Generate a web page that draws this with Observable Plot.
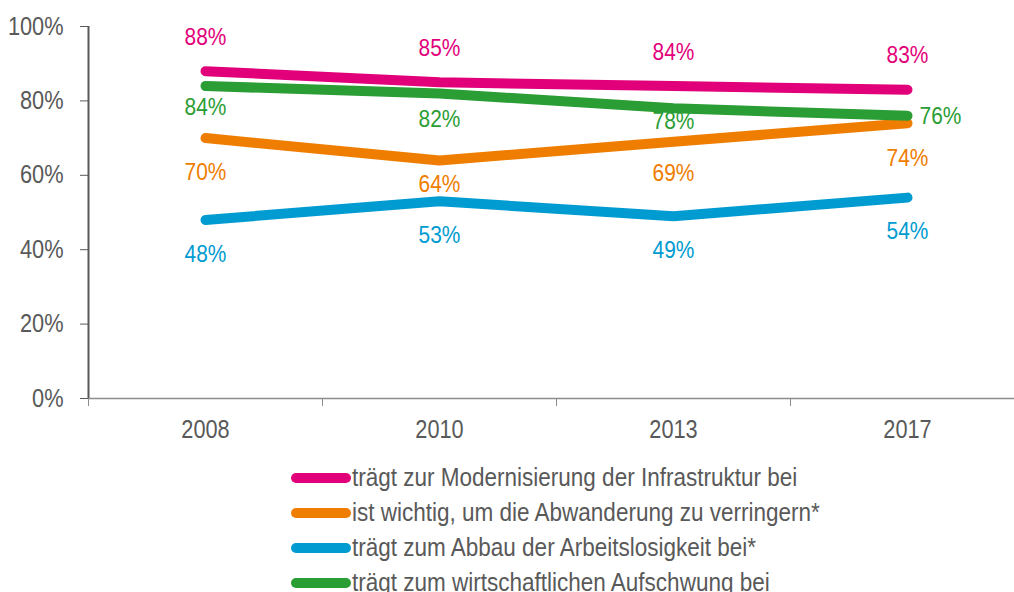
<!DOCTYPE html>
<html>
<head>
<meta charset="utf-8">
<script src="https://cdn.jsdelivr.net/npm/d3@7"></script>
<script src="https://cdn.jsdelivr.net/npm/@observablehq/plot@0.6"></script>
<style>
  html, body { margin: 0; padding: 0; background: #fff; overflow: hidden; }
  body { width: 1014px; height: 592px; font-family: "Liberation Sans", Arial, sans-serif; }
  #legend { margin-left: 290px; color: #595959; font-size: 25px; }
  .row { height: 35px; line-height: 35px; display: flex; align-items: center; white-space: nowrap; }
  .row svg { flex: none; }
  .row span { display: inline-block; transform: scaleX(0.9); transform-origin: left center; }
</style>
</head>
<body>
<div id="chart"></div>
<div id="legend"></div>
<script>
const years = ["2008", "2010", "2013", "2017"];
const seriesNames = [
  "trägt zur Modernisierung der Infrastruktur bei",
  "ist wichtig, um die Abwanderung zu verringern*",
  "trägt zum Abbau der Arbeitslosigkeit bei*",
  "trägt zum wirtschaftlichen Aufschwung bei"
];
const infrastruktur = [0.88, 0.85, 0.84, 0.83];
const abwanderung = [0.70, 0.64, 0.69, 0.74];
const arbeitslosigkeit = [0.48, 0.53, 0.49, 0.54];
const aufschwung = [0.84, 0.82, 0.78, 0.76];
const yTicks = [0, 0.2, 0.4, 0.6, 0.8, 1.0];
const colors = ["#e2007a", "#ef7d00", "#009bd0", "#2a9d34"];

const seriesValues = [infrastruktur, abwanderung, arbeitslosigkeit, aufschwung];
const data = [];
seriesNames.forEach((s, si) => {
  seriesValues[si].forEach((v, i) => data.push({series: s, si, i, year: years[i], value: v}));
});

// label placement (style config)
function labelDy(d) {
  if (d.si === 0) return -34;
  if (d.si === 3) return [21, 26, 13, 1][d.i];
  if (d.si === 1) return [34, 24, 31, 35][d.i];
  return 34;
}
function labelDx(d) { return (d.si === 3 && d.i === 3) ? 33 : 0; }

const gray = "#595959";

const labelMarks = data.map(d => Plot.text([d], {
  x: "i", y: "value",
  text: d => Math.round(d.value * 100) + "%",
  fill: colors[d.si],
  fontSize: 24,
  dy: labelDy(d),
  dx: labelDx(d),
  textAnchor: "middle"
}));

const chart = Plot.plot({
  width: 1014,
  height: 460,
  marginLeft: 88,
  marginRight: 0,
  marginTop: 26,
  marginBottom: 62,
  style: {fontFamily: '"Liberation Sans", Arial, sans-serif', fontSize: "25px", color: gray, background: "#fff", overflow: "visible"},
  x: {domain: [-0.5, 3.5], range: [88, 1024]},
  y: {domain: [0, 1]},
  color: {domain: seriesNames, range: colors},
  marks: [
    Plot.ruleY([0], {x1: -0.5, x2: 3.5, stroke: "#8c8c8c", strokeWidth: 1.5}),
    Plot.ruleX([-0.5], {y1: 0, y2: 1, stroke: gray, strokeWidth: 2}),
    Plot.axisY({ticks: yTicks, tickFormat: d3.format(".0%"), tickSize: 8, tickPadding: 17, stroke: gray, fill: gray, fontSize: 25, label: null}),
    Plot.axisX({ticks: [-0.5, 0.5, 1.5, 2.5], tickFormat: () => "", tickSize: 8, stroke: "#8c8c8c", label: null}),
    Plot.axisX({ticks: [0, 1, 2, 3], tickFormat: i => years[i], tickSize: 0, tickPadding: 22, fill: gray, fontSize: 25, label: null}),
    Plot.line(data, {x: "i", y: "value", z: "series", stroke: "series", strokeWidth: 10, strokeLinecap: "round", strokeLinejoin: "round"}),
    ...labelMarks
  ]
});
// narrow the glyphs horizontally around each text's anchor point
chart.querySelectorAll("text").forEach(t => {
  const tr = t.getAttribute("transform") || "";
  const xa = t.getAttribute("x");
  const x = xa && /^-?[\d.]+$/.test(xa) ? +xa : 0;
  t.setAttribute("transform", `${tr} translate(${x},0) scale(0.87,1) translate(${-x},0)`.trim());
});
document.getElementById("chart").appendChild(chart);

const legend = document.getElementById("legend");
seriesNames.forEach((s, si) => {
  const row = document.createElement("div");
  row.className = "row";
  row.innerHTML = `<svg width="62" height="14"><line x1="6" y1="7" x2="56" y2="7" stroke="${colors[si]}" stroke-width="10" stroke-linecap="round"/></svg><span>${s}</span>`;
  legend.appendChild(row);
});
</script>
</body>
</html>
